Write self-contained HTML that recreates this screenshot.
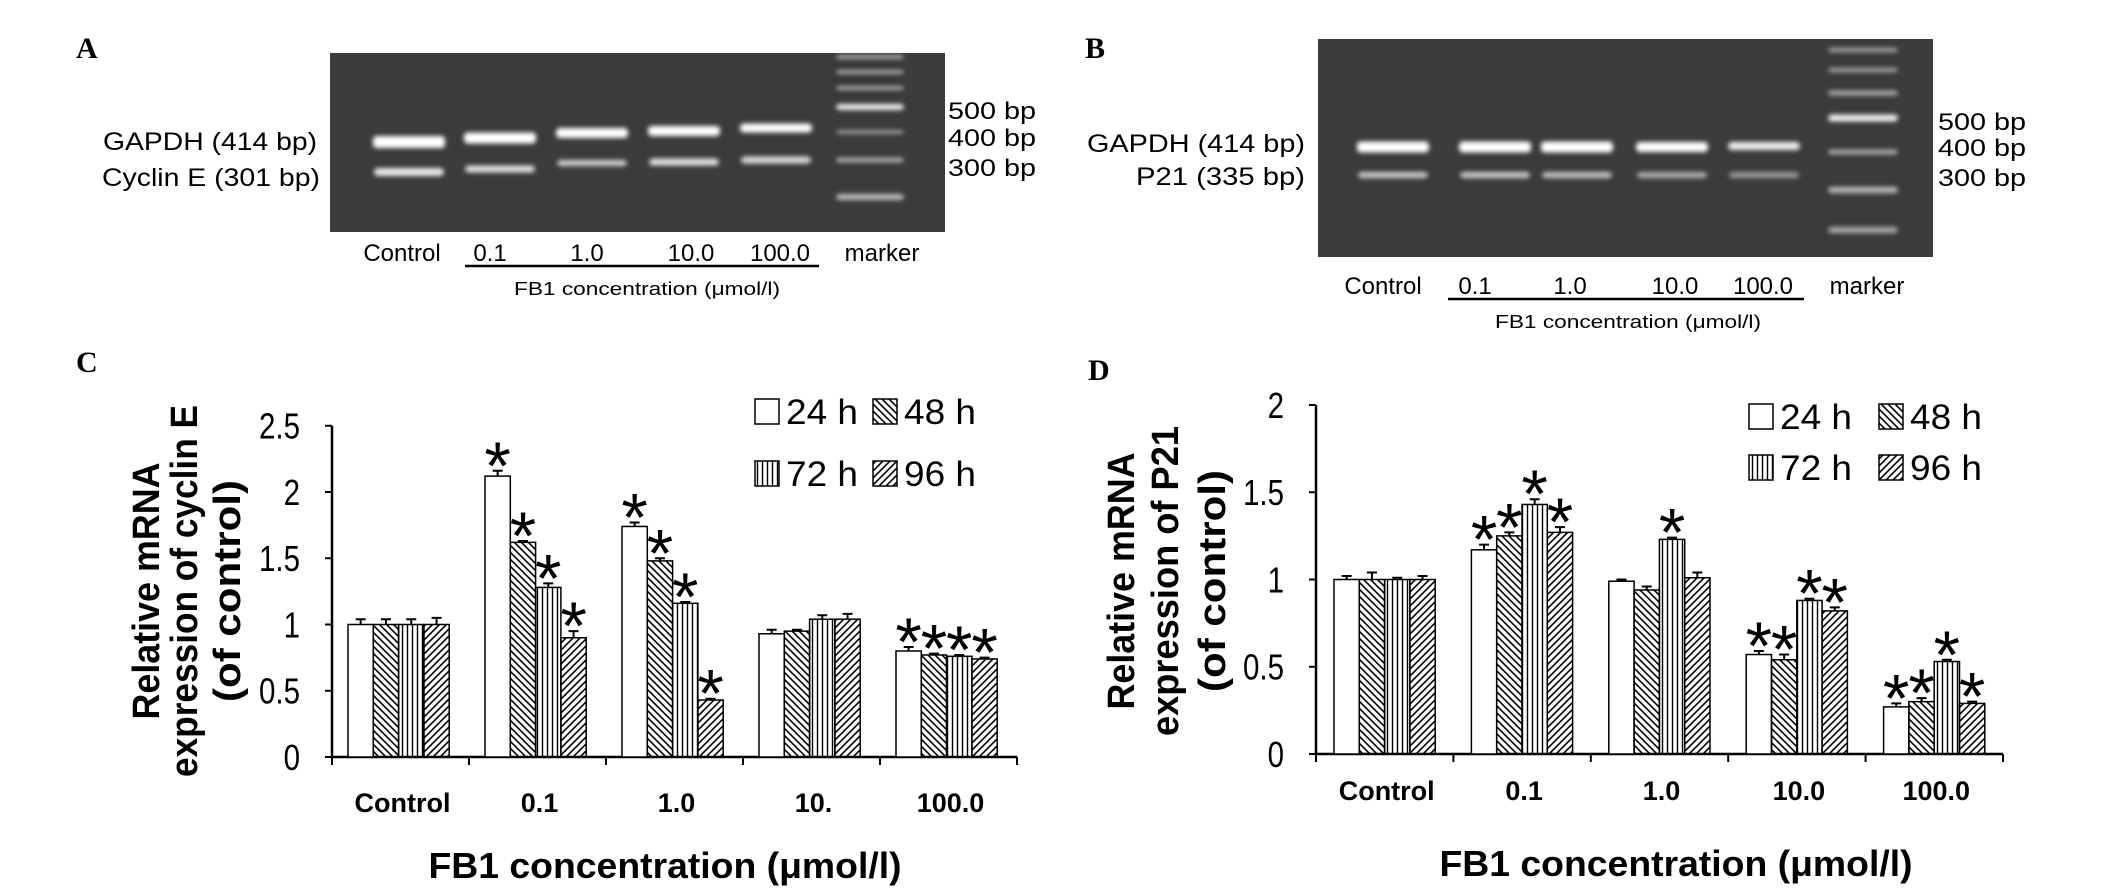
<!DOCTYPE html>
<html><head><meta charset="utf-8"><style>
html,body{margin:0;padding:0;background:#fff;}
svg{display:block;}
text{font-family:"Liberation Sans",sans-serif;fill:#000;}
</style></head><body>
<svg id="fig" width="2126" height="892" viewBox="0 0 2126 892" xmlns="http://www.w3.org/2000/svg">
<defs>
<pattern id="p48" patternUnits="userSpaceOnUse" width="7" height="7"><path d="M-1,-1 L8,8 M-1,6 L1,8 M6,-1 L8,1" stroke="#000" stroke-width="1.6"/></pattern>
<pattern id="p72" patternUnits="userSpaceOnUse" width="5" height="5"><path d="M2.5,0 L2.5,5" stroke="#000" stroke-width="1.4"/></pattern>
<pattern id="p96" patternUnits="userSpaceOnUse" width="7" height="7"><path d="M-1,8 L8,-1 M-1,1 L1,-1 M6,8 L8,6" stroke="#000" stroke-width="1.6"/></pattern>
<filter id="blur" x="-20%" y="-100%" width="140%" height="300%"><feGaussianBlur stdDeviation="2.5"/></filter>
</defs>

<!-- Panel A -->
<text x="76" y="58" font-weight="bold" font-size="30" style="font-family:'Liberation Serif',serif">A</text>
<g id="gelA">
<rect x="330" y="53" width="615" height="179" fill="#3b3b3b"/>
</g>
<text x="317" y="150" text-anchor="end" font-size="25" textLength="214" lengthAdjust="spacingAndGlyphs">GAPDH (414 bp)</text>
<text x="320" y="186" text-anchor="end" font-size="25" textLength="218" lengthAdjust="spacingAndGlyphs">Cyclin E (301 bp)</text>
<text x="948" y="119" font-size="24" textLength="88" lengthAdjust="spacingAndGlyphs">500 bp</text>
<text x="948" y="146" font-size="24" textLength="88" lengthAdjust="spacingAndGlyphs">400 bp</text>
<text x="948" y="176" font-size="24" textLength="88" lengthAdjust="spacingAndGlyphs">300 bp</text>
<g font-size="24" text-anchor="middle">
<text x="402" y="261">Control</text>
<text x="490" y="261">0.1</text>
<text x="587" y="261">1.0</text>
<text x="691" y="261">10.0</text>
<text x="780" y="261">100.0</text>
<text x="882" y="261">marker</text>
</g>
<line x1="465" y1="266" x2="819" y2="266" stroke="#000" stroke-width="2.5"/>
<text x="647" y="295" text-anchor="middle" font-size="18" textLength="266" lengthAdjust="spacingAndGlyphs">FB1 concentration (μmol/l)</text>

<!-- Panel B -->
<text x="1085" y="58" font-weight="bold" font-size="30" style="font-family:'Liberation Serif',serif">B</text>
<g id="gelB">
<rect x="1318" y="39" width="615" height="218" fill="#3b3b3b"/>
</g>
<text x="1305" y="152" text-anchor="end" font-size="25" textLength="218" lengthAdjust="spacingAndGlyphs">GAPDH (414 bp)</text>
<text x="1305" y="185" text-anchor="end" font-size="25" textLength="169" lengthAdjust="spacingAndGlyphs">P21 (335 bp)</text>
<text x="1938" y="130" font-size="24" textLength="88" lengthAdjust="spacingAndGlyphs">500 bp</text>
<text x="1938" y="156" font-size="24" textLength="88" lengthAdjust="spacingAndGlyphs">400 bp</text>
<text x="1938" y="186" font-size="24" textLength="88" lengthAdjust="spacingAndGlyphs">300 bp</text>
<g font-size="24" text-anchor="middle">
<text x="1383" y="294">Control</text>
<text x="1475" y="294">0.1</text>
<text x="1570" y="294">1.0</text>
<text x="1675" y="294">10.0</text>
<text x="1763" y="294">100.0</text>
<text x="1867" y="294">marker</text>
</g>
<line x1="1448" y1="299" x2="1804" y2="299" stroke="#000" stroke-width="2.5"/>
<text x="1628" y="328" text-anchor="middle" font-size="18" textLength="266" lengthAdjust="spacingAndGlyphs">FB1 concentration (μmol/l)</text>

<!-- Panel C -->
<text x="76" y="372" font-weight="bold" font-size="30" style="font-family:'Liberation Serif',serif">C</text>
<g id="chartC"></g>
<g font-weight="bold" font-size="38" text-anchor="middle">
<text transform="translate(159,591) rotate(-90)" textLength="257" lengthAdjust="spacingAndGlyphs">Relative mRNA</text>
<text transform="translate(197,591) rotate(-90)" textLength="372" lengthAdjust="spacingAndGlyphs">expression of cyclin E</text>
<text transform="translate(240,591) rotate(-90)" textLength="222" lengthAdjust="spacingAndGlyphs">(of control)</text>
</g>
<text x="665" y="878" text-anchor="middle" font-weight="bold" font-size="36" textLength="473" lengthAdjust="spacingAndGlyphs">FB1 concentration (μmol/l)</text>

<!-- Panel D -->
<text x="1088" y="380" font-weight="bold" font-size="30" style="font-family:'Liberation Serif',serif">D</text>
<g id="chartD"></g>
<g font-weight="bold" font-size="38" text-anchor="middle">
<text transform="translate(1134,581) rotate(-90)" textLength="257" lengthAdjust="spacingAndGlyphs">Relative mRNA</text>
<text transform="translate(1178,581) rotate(-90)" textLength="310" lengthAdjust="spacingAndGlyphs">expression of P21</text>
<text transform="translate(1225,581) rotate(-90)" textLength="222" lengthAdjust="spacingAndGlyphs">(of control)</text>
</g>
<text x="1676" y="876" text-anchor="middle" font-weight="bold" font-size="36" textLength="473" lengthAdjust="spacingAndGlyphs">FB1 concentration (μmol/l)</text>
</svg>

<script>
const categoriesC = ["Control", "0.1", "1.0", "10.", "100.0"];
const categoriesD = ["Control", "0.1", "1.0", "10.0", "100.0"];
const seriesNames = ["24 h", "48 h", "72 h", "96 h"];
const c24 = [1.00, 2.12, 1.74, 0.93, 0.80];
const c48 = [1.00, 1.62, 1.48, 0.95, 0.77];
const c72 = [1.00, 1.28, 1.16, 1.04, 0.76];
const c96 = [1.00, 0.90, 0.43, 1.04, 0.74];
const c24err = [0.04, 0.04, 0.03, 0.03, 0.03];
const c48err = [0.04, 0.01, 0.02, 0.01, 0.01];
const c72err = [0.04, 0.03, 0.01, 0.03, 0.01];
const c96err = [0.05, 0.05, 0.01, 0.04, 0.01];
const c24sig = [0, 1, 1, 0, 1];
const c48sig = [0, 1, 1, 0, 1];
const c72sig = [0, 1, 1, 0, 1];
const c96sig = [0, 1, 1, 0, 1];
const cTicks = ["0", "0.5", "1", "1.5", "2", "2.5"];
const cTickVals = [0, 0.5, 1, 1.5, 2, 2.5];

const d24 = [1.00, 1.17, 0.99, 0.57, 0.27];
const d48 = [1.00, 1.25, 0.94, 0.54, 0.30];
const d72 = [1.00, 1.43, 1.23, 0.88, 0.53];
const d96 = [1.00, 1.27, 1.01, 0.82, 0.29];
const d24err = [0.02, 0.03, 0.01, 0.02, 0.02];
const d48err = [0.04, 0.02, 0.02, 0.03, 0.02];
const d72err = [0.01, 0.03, 0.01, 0.01, 0.01];
const d96err = [0.02, 0.03, 0.03, 0.02, 0.01];
const d24sig = [0, 1, 0, 1, 1];
const d48sig = [0, 1, 0, 1, 1];
const d72sig = [0, 1, 1, 1, 1];
const d96sig = [0, 1, 0, 1, 1];
const dTicks = ["0", "0.5", "1", "1.5", "2"];
const dTickVals = [0, 0.5, 1, 1.5, 2];

const NS = "http://www.w3.org/2000/svg";
function mk(tag, attrs, parent) {
  const e = document.createElementNS(NS, tag);
  for (const k in attrs) e.setAttribute(k, attrs[k]);
  parent.appendChild(e);
  return e;
}
const fills = ["#fff", "url(#p48)", "url(#p72)", "url(#p96)"];

function drawChart(g, cfg) {
  const y = v => cfg.y0 - v * cfg.ppu;
  const gx = i => cfg.ox + i * cfg.gw;
  const ya = mk("line", {x1: cfg.ox, y1: y(cfg.tickVals[cfg.tickVals.length-1]), x2: cfg.ox, y2: cfg.y0, stroke: "#000", "stroke-width": 2.5}, g);
  
  
  const xa = mk("line", {x1: cfg.ox, y1: cfg.y0, x2: gx(cfg.cats.length), y2: cfg.y0, stroke: "#000", "stroke-width": 2.5}, g);
  
  
  cfg.tickVals.forEach((v, i) => {
    const t = mk("line", {x1: cfg.ox - 7, y1: y(v), x2: cfg.ox, y2: y(v), stroke: "#000", "stroke-width": 2}, g);
    
    
    const l = mk("text", {x: cfg.ox - 32, y: y(v) + 13, "text-anchor": "end", "font-size": 36, transform: `translate(${cfg.ox-32},0) scale(0.82,1) translate(${-(cfg.ox-32)},0)`}, g);
    l.textContent = cfg.tickLabels[i];
    
    
  });
  for (let i = 0; i <= cfg.cats.length; i++) {
    const t = mk("line", {x1: gx(i), y1: cfg.y0, x2: gx(i), y2: cfg.y0 + 8, stroke: "#000", "stroke-width": 2}, g);
    
    
  }
  cfg.cats.forEach((c, i) => {
    const l = mk("text", {x: gx(i) + cfg.gw / 2 + 2, y: cfg.labelY, "text-anchor": "middle", "font-size": 27, "font-weight": "bold"}, g);
    l.textContent = c;
    
    
  });
  cfg.series.forEach((s, si) => {
    s.vals.forEach((v, i) => {
      const bx = gx(i) + cfg.off + si * cfg.bw;
      const r = mk("rect", {x: bx, y: y(v), width: cfg.bw, height: v * cfg.ppu, fill: fills[si], stroke: "#000", "stroke-width": 1.5}, g);
      
      
      const cx = bx + cfg.bw / 2;
      const et = y(v + s.err[i]);
      const e = mk("path", {d: `M${cx},${y(v)} L${cx},${et} M${cx-5},${et} L${cx+5},${et}`, stroke: "#000", "stroke-width": 2, fill: "none"}, g);
      
      
      if (s.sig[i]) {
        const st = mk("text", {x: cx, y: et + 18, "text-anchor": "middle", "font-size": 68}, g);
        st.textContent = "*";
        
        
      }
    });
  });
  cfg.legend.forEach((lg, si) => {
    const bx = lg[0], cy = lg[1];
    const b = mk("rect", {x: bx, y: cy - 12, width: 24, height: 25, fill: fills[si], stroke: "#000", "stroke-width": 1.5}, g);
    
    
    const t = mk("text", {x: bx + 31, y: cy + 13, "font-size": 35, textLength: 72, lengthAdjust: "spacingAndGlyphs"}, g);
    t.textContent = seriesNames[si];
    
    
  });
}

drawChart(document.getElementById("chartC"), {
  ox: 332, y0: 757, ppu: 132.5, gw: 137, off: 16, bw: 25.3, labelY: 812,
  cats: categoriesC, tickVals: cTickVals, tickLabels: cTicks,
  series: [{vals: c24, err: c24err, sig: c24sig}, {vals: c48, err: c48err, sig: c48sig}, {vals: c72, err: c72err, sig: c72sig}, {vals: c96, err: c96err, sig: c96sig}],
  legend: [[755, 411], [873, 411], [755, 473], [873, 473]]
});
drawChart(document.getElementById("chartD"), {
  ox: 1316, y0: 754, ppu: 174.5, gw: 137.4, off: 18, bw: 25.3, labelY: 800,
  cats: categoriesD, tickVals: dTickVals, tickLabels: dTicks,
  series: [{vals: d24, err: d24err, sig: d24sig}, {vals: d48, err: d48err, sig: d48sig}, {vals: d72, err: d72err, sig: d72sig}, {vals: d96, err: d96err, sig: d96sig}],
  legend: [[1749, 416], [1879, 416], [1749, 467], [1879, 467]]
});

function bands(g, list) {
  list.forEach(b => {
    const r = mk("rect", {x: b[0] - b[2] / 2, y: b[1] - b[3] / 2, width: b[2], height: b[3], rx: 4, fill: b[4], filter: "url(#blur)"}, g);
    
    
  });
}
const gA = document.getElementById("gelA");
bands(gA, [
  [409,142,72,12,"#fff"],[500,138,72,11,"#fff"],[592,133,72,10,"#fff"],[684,131,72,10,"#fff"],[776,128,72,9,"#fff"],
  [409,172,70,8,"#e8e8e8"],[500,169,70,7,"#e0e0e0"],[592,163,70,6,"#d0d0d0"],[684,162,70,7,"#e0e0e0"],[776,160,70,7,"#d8d8d8"],
  [870,57,68,4,"#aaa"],[870,72,68,4,"#aaa"],[870,88,68,4,"#aaa"],[870,107,68,6,"#eee"],[870,132,68,4,"#999"],[870,160,68,5,"#aaa"],[870,197,68,6,"#bbb"]
]);
const gB = document.getElementById("gelB");
bands(gB, [
  [1393,147,72,11,"#fff"],[1495,147,72,11,"#fff"],[1577,147,72,11,"#fff"],[1672,147,72,10,"#fff"],[1764,146,72,8,"#eee"],
  [1393,175,70,6,"#ccc"],[1495,175,70,6,"#ccc"],[1577,175,70,6,"#c4c4c4"],[1672,175,70,6,"#b0b0b0"],[1764,175,70,6,"#999"],
  [1863,50,70,4,"#aaa"],[1863,70,70,4,"#aaa"],[1863,93,70,5,"#aaa"],[1863,118,70,7,"#eee"],[1863,152,70,5,"#aaa"],[1863,190,70,6,"#bbb"],[1863,230,70,6,"#aaa"]
]);
</script>
</body></html>
